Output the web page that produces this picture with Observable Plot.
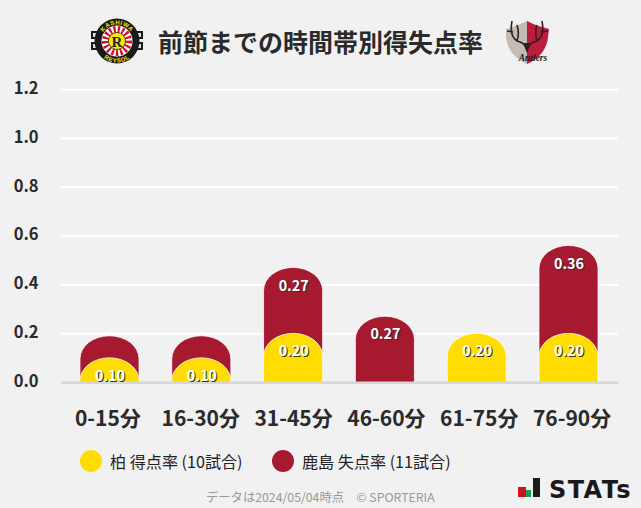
<!DOCTYPE html>
<html lang="ja">
<head>
<meta charset="utf-8">
<script src="https://cdn.jsdelivr.net/npm/d3@7"></script>
<script src="https://cdn.jsdelivr.net/npm/@observablehq/plot@0.6"></script>
<style>
html,body{margin:0;padding:0;background:#f1f1f1;}
body{position:relative;width:641px;height:508px;overflow:hidden;font-family:"Noto Sans CJK JP","Noto Sans",sans-serif;}
#chart svg{position:absolute;left:0;top:0;background:transparent;display:block;}
.title{position:absolute;left:158px;top:23px;font-size:25px;line-height:36px;font-weight:700;color:#2a2a2a;white-space:nowrap;}
.legend{position:absolute;top:449px;left:0;font-size:16.1px;line-height:24px;color:#222;white-space:nowrap;}
.legend i{position:absolute;top:1px;width:22px;height:22px;border-radius:50%;}
.legend span{position:absolute;top:0;}
.foot{position:absolute;left:206px;top:488px;font-size:12.3px;line-height:18px;color:#999;white-space:nowrap;}
.stats{position:absolute;left:510px;top:470px;width:131px;height:38px;}
.stats b{position:absolute;bottom:11px;display:block;}
.stats em{position:absolute;left:39px;top:5px;font:normal 700 24px/30px "DejaVu Sans",sans-serif;letter-spacing:1.4px;color:#1a1a1a;}
.logo{position:absolute;overflow:visible;}
</style>
</head>
<body>
<div id="chart"></div>
<svg class="logo" style="left:90px;top:18px" width="54" height="48" viewBox="0 0 54 48">
  <defs>
    <path id="arcTop" d="M10.5 23 A16.5 16.5 0 0 1 43.5 23"/>
    <path id="arcBot" d="M5.5 23 A21.5 21.5 0 0 0 48.5 23"/>
  </defs>
  <path d="M1 13 H53 V21 H1 Z M1 24 H53 V32 H1 Z" fill="#1a1a1a"/>
  <path d="M3 15 H6 V19 H3 Z M48 15 H51 V19 H48 Z M3 26 H6 V30 H3 Z M48 26 H51 V30 H48 Z" fill="#ddd"/>
  <circle cx="27" cy="23" r="22.5" fill="#1a1a1a"/>
  <circle cx="27" cy="23" r="15.5" fill="#fff"/>
  <circle cx="27" cy="23" r="11.5" fill="none" stroke="#d0122b" stroke-width="7" stroke-dasharray="2.2 2"/>
  <circle cx="27" cy="23" r="8.5" fill="#ffe600" stroke="#222" stroke-width=".8"/>
  <text x="27" y="28.5" text-anchor="middle" font-family="Liberation Serif" font-weight="700" font-size="15" fill="#222">R</text>
  <text font-family="Liberation Sans" font-weight="700" font-size="6" fill="#ffe600" letter-spacing=".6"><textPath href="#arcTop" startOffset="50%" text-anchor="middle">KASHIWA</textPath></text>
  <text font-family="Liberation Sans" font-weight="700" font-size="6" fill="#ffe600" letter-spacing=".6"><textPath href="#arcBot" startOffset="50%" text-anchor="middle">REYSOL</textPath></text>
</svg>
<svg class="logo" style="left:504px;top:17px" width="47" height="50" viewBox="0 0 47 50">
  <path d="M2 12 C10 10 17 7 23 4 L23 47 C11 42 3 32 2 20 Z" fill="#c4bcb4"/>
  <path d="M23 4 C29 7 36 10 45 12 L44 20 C43 32 35 42 23 47 Z" fill="#bd1c3f"/>
  <path d="M23 32 C20 26 17 25 13 24 C8 21 6 15 8 4 M9 15 L3 14 M13 24 C15 18 15 14 13 8 M23 32 C26 26 29 25 33 24 C38 21 40 15 38 4 M37 15 L44 14 M33 24 C31 18 31 14 33 8" fill="none" stroke="#2b211d" stroke-width="1.6"/>
  <path d="M19 26 L27 26 L23 36 Z" fill="#2b211d"/>
  <text x="29" y="44" text-anchor="middle" font-family="Liberation Serif" font-style="italic" font-weight="700" font-size="9.5" fill="#222">Antlers</text>
</svg>
<div class="title">前節までの時間帯別得失点率</div>
<div class="legend" style="width:641px">
  <i style="left:80px;background:#ffdd00"></i><span style="left:110px">柏 得点率 (10試合)</span>
  <i style="left:272px;background:#a6192e"></i><span style="left:302px">鹿島 失点率 (11試合)</span>
</div>
<div class="foot">データは2024/05/04時点　© SPORTERIA</div>
<div class="stats">
  <b style="left:8px;width:8px;height:10px;background:#d0121b"></b>
  <b style="left:16px;width:5px;height:7px;background:#12a150"></b>
  <b style="left:23px;width:7px;height:19px;background:#1a1a1a"></b>
  <em>STATs</em>
</div>
<script>
const categories = ["0-15分", "16-30分", "31-45分", "46-60分", "61-75分", "76-90分"];
const kashiwaRates = [0.10, 0.10, 0.20, 0, 0.20, 0.20];
const kashimaRates = [0.09, 0.09, 0.27, 0.27, 0, 0.36];
const yTicks = [0, 0.2, 0.4, 0.6, 0.8, 1.0, 1.2];
const kashiwaColor = "#ffdd00";
const kashimaColor = "#a6192e";
const belowAxis = -0.25;
const minLabelled = 0.1;

const kashiwa = categories.map((c, i) => ({c, v: kashiwaRates[i], top: kashiwaRates[i]})).filter(d => d.v > 0);
const kashima = categories.map((c, i) => ({c, v: kashimaRates[i], top: kashiwaRates[i] + kashimaRates[i]})).filter(d => d.v > 0);
const labels = kashima.concat(kashiwa).filter(d => d.v >= minLabelled);

const capped = fill => ({
  x: "c", y1: () => belowAxis, y2: "top", fill,
  rx: 29.5, ry: 23, clip: "frame",
  stroke: "#fff", strokeWidth: 1, strokeOpacity: 0.75
});

const frame = {
  width: 641,
  height: 440,
  marginTop: 89.2,
  marginBottom: 57.8,
  marginLeft: 61,
  marginRight: 23,
  style: {background: "transparent", fontFamily: '"Noto Sans CJK JP","Noto Sans",sans-serif'}
};

const chart = Plot.plot({
  ...frame,
  x: {domain: categories, range: [63.6, 614.4], paddingInner: 0.357, paddingOuter: 0.1785, round: false, label: null, axis: null},
  y: {domain: [0, 1.2], label: null},
  marks: [
    Plot.ruleY(yTicks.slice(1), {stroke: "#fff", strokeWidth: 2, strokeOpacity: 1}),
    Plot.barY(kashima, capped(kashimaColor)),
    Plot.barY(kashiwa, capped(kashiwaColor)),
    Plot.ruleY([0], {stroke: "#d6d6d6", strokeWidth: 2.5}),
    Plot.text(labels, {x: "c", y: "top", dy: 19, dx: 1, text: d => d.v.toFixed(2), fill: "#333", fontSize: 14.3, fontWeight: 700}),
    Plot.text(labels, {x: "c", y: "top", dy: 18, text: d => d.v.toFixed(2), fill: "#fff", fontSize: 14.3, fontWeight: 700}),
    Plot.axisY({ticks: yTicks, tickFormat: d3.format(".1f"), tickSize: 0, tickPadding: 23, dy: -1, fontSize: 16.5, fontWeight: 700, color: "#2a2a2a", label: null})
  ]
});

// The category labels span the full plot width, on a wider band than the bars.
const labelAxis = Plot.plot({
  ...frame,
  x: {type: "band", domain: categories, range: [61, 618], padding: 0, round: false, label: null},
  y: {domain: [0, 1.2], axis: null},
  marks: [
    Plot.axisX({tickSize: 0, tickPadding: 28, fontSize: 21, fontWeight: 700, color: "#2a2a2a", label: null})
  ]
});

document.getElementById("chart").append(chart, labelAxis);
</script>
</body>
</html>
